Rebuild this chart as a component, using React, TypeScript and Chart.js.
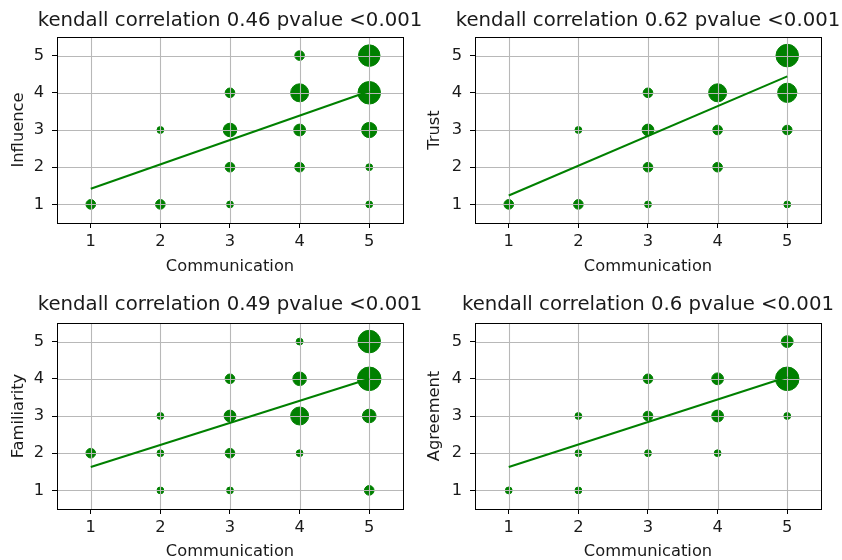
import React, { useEffect, useRef } from 'react';
import { Chart, registerables } from 'chart.js';

Chart.register(...registerables);

// ---- data ----
const tickValues = [1, 2, 3, 4, 5];
const xAxisLabel = 'Communication';

const influenceX = [1, 2, 3, 5, 3, 4, 5, 2, 3, 4, 5, 3, 4, 5, 4, 5];
const influenceY = [1, 1, 1, 1, 2, 2, 2, 3, 3, 3, 3, 4, 4, 4, 5, 5];
const influenceCount = [2, 2, 1, 1, 2, 2, 1, 1, 4, 3, 5, 2, 7, 11, 2, 10];
const influenceTrend = [1.42, 4.04];

const trustX = [1, 2, 3, 5, 3, 4, 2, 3, 4, 5, 3, 4, 5, 5];
const trustY = [1, 1, 1, 1, 2, 2, 3, 3, 3, 3, 4, 4, 4, 5];
const trustCount = [2, 2, 1, 1, 2, 2, 1, 3, 2, 2, 2, 7, 8, 11];
const trustTrend = [1.24, 4.44];

const familiarityX = [1, 2, 2, 2, 3, 3, 3, 3, 4, 4, 4, 4, 5, 5, 5, 5];
const familiarityY = [2, 1, 2, 3, 1, 2, 3, 4, 2, 3, 4, 5, 1, 3, 4, 5];
const familiarityCount = [2, 1, 1, 1, 1, 2, 3, 2, 1, 7, 4, 1, 2, 4, 12, 11];
const familiarityTrend = [1.63, 4.0];

const agreementX = [1, 2, 2, 2, 3, 3, 3, 4, 4, 4, 5, 5, 5];
const agreementY = [1, 1, 2, 3, 2, 3, 4, 2, 3, 4, 3, 4, 5];
const agreementCount = [1, 1, 1, 1, 1, 2, 2, 1, 3, 3, 1, 12, 3];
const agreementTrend = [1.63, 4.05];

const titles = [
  'kendall correlation 0.46 pvalue <0.001',
  'kendall correlation 0.62 pvalue <0.001',
  'kendall correlation 0.49 pvalue <0.001',
  'kendall correlation 0.6 pvalue <0.001',
];
const yAxisLabels = ['Influence', 'Trust', 'Familiarity', 'Agreement'];

// ---- styling / layout ----
const GREEN = '#008000';
const FONT = "'DejaVu Sans', sans-serif";
const TEXT = '#1a1a1a';
const TITLE_SIZE = 19.7;
const LABEL_SIZE = 16.3;

const layouts = [
  { left: 0, top: 0, width: 432, height: 280, yWidth: 57, padRight: 29, padTop: 37, titleY: 20.7, yTitlePad: 9.2, xHeight: 57, xTitlePad: 3.6 },
  { left: 421, top: 0, width: 421, height: 280, yWidth: 54, padRight: 21, padTop: 37, titleY: 20.7, yTitlePad: 3.7, xHeight: 57, xTitlePad: 3.6 },
  { left: 0, top: 280, width: 432, height: 282, yWidth: 57, padRight: 29, padTop: 43, titleY: 24.7, yTitlePad: 9.2, xHeight: 53, xTitlePad: 0.2 },
  { left: 421, top: 280, width: 421, height: 282, yWidth: 54, padRight: 21, padTop: 43, titleY: 24.7, yTitlePad: 3.7, xHeight: 53, xTitlePad: 0.2 },
];

const series = [
  { xs: influenceX, ys: influenceY, counts: influenceCount, trend: influenceTrend },
  { xs: trustX, ys: trustY, counts: trustCount, trend: trustTrend },
  { xs: familiarityX, ys: familiarityY, counts: familiarityCount, trend: familiarityTrend },
  { xs: agreementX, ys: agreementY, counts: agreementCount, trend: agreementTrend },
];

const gridFramePlugin = {
  id: 'gridFrame',
  beforeDatasetDraw(chart: any, args: any) {
    if (args.index !== 0) return;
    const { ctx, chartArea: a, scales } = chart;
    ctx.save();
    ctx.strokeStyle = '#b8b8b8';
    ctx.lineWidth = 1.1;
    ctx.beginPath();
    tickValues.forEach((v) => {
      const px = Math.round(scales.x.getPixelForValue(v)) + 0.5;
      ctx.moveTo(px, a.top);
      ctx.lineTo(px, a.bottom);
      const py = Math.round(scales.y.getPixelForValue(v)) + 0.5;
      ctx.moveTo(a.left, py);
      ctx.lineTo(a.right, py);
    });
    ctx.stroke();
    ctx.restore();
  },
  afterDraw(chart: any) {
    const { ctx, chartArea: a } = chart;
    const o = chart.options.plugins.gridFrame || {};
    ctx.save();
    ctx.strokeStyle = '#000';
    ctx.lineWidth = 1;
    ctx.strokeRect(Math.round(a.left) + 0.5, Math.round(a.top) + 0.5, Math.round(a.right - a.left), Math.round(a.bottom - a.top));
    if (o.title) {
      ctx.fillStyle = TEXT;
      ctx.font = `${TITLE_SIZE}px ${FONT}`;
      ctx.textAlign = 'center';
      ctx.textBaseline = 'middle';
      ctx.fillText(o.title, (a.left + a.right) / 2, o.titleY);
    }
    ctx.restore();
  },
};

function Panel({ idx }: { idx: number }) {
  const ref = useRef<HTMLCanvasElement>(null);
  useEffect(() => {
    const L = layouts[idx];
    const s = series[idx];
    const points = s.xs.map((x, i) => ({ x, y: s.ys[i] }));
    const chart = new Chart(ref.current as HTMLCanvasElement, {
      type: 'scatter',
      data: {
        datasets: [
          {
            data: [
              { x: 1, y: s.trend[0] },
              { x: 5, y: s.trend[1] },
            ],
            showLine: true,
            borderColor: GREEN,
            borderWidth: 2,
            pointRadius: 0,
            fill: false,
          },
          {
            data: points,
            backgroundColor: GREEN,
            borderColor: GREEN,
            borderWidth: 1,
            pointRadius: (c: any) => 3.4 * Math.sqrt(s.counts[c.dataIndex] || 0),
          },
        ],
      },
      options: {
        animation: false,
        responsive: false,
        events: [],
        layout: { padding: { left: 0, right: L.padRight, top: L.padTop, bottom: 0 } },
        plugins: {
          legend: { display: false },
          tooltip: { enabled: false },
          title: { display: false },
          gridFrame: { title: titles[idx], titleY: L.titleY },
        },
        scales: {
          x: {
            type: 'linear',
            min: 0.515,
            max: 5.485,
            afterBuildTicks: (sc: any) => {
              sc.ticks = tickValues.map((v) => ({ value: v }));
            },
            afterFit: (sc: any) => {
              sc.height = L.xHeight;
            },
            ticks: { color: TEXT, font: { family: FONT, size: LABEL_SIZE }, padding: 4.2, callback: (v: any) => String(v) },
            grid: { display: true, drawOnChartArea: false, drawTicks: true, tickLength: 5, tickColor: '#000', tickWidth: 1 },
            border: { display: false },
            title: { display: true, text: xAxisLabel, color: TEXT, font: { family: FONT, size: LABEL_SIZE }, padding: { top: 0, bottom: L.xTitlePad } },
          },
          y: {
            type: 'linear',
            min: 0.5,
            max: 5.5,
            afterBuildTicks: (sc: any) => {
              sc.ticks = tickValues.map((v) => ({ value: v }));
            },
            afterFit: (sc: any) => {
              sc.width = L.yWidth;
            },
            ticks: { color: TEXT, font: { family: FONT, size: LABEL_SIZE }, padding: 8, callback: (v: any) => String(v) },
            grid: { display: true, drawOnChartArea: false, drawTicks: true, tickLength: 5, tickColor: '#000', tickWidth: 1 },
            border: { display: false },
            title: { display: true, text: yAxisLabels[idx], color: TEXT, font: { family: FONT, size: LABEL_SIZE }, padding: { top: L.yTitlePad, bottom: 0 } },
          },
        },
      },
      plugins: [gridFramePlugin],
    } as any);
    return () => chart.destroy();
  }, [idx]);
  const L = layouts[idx];
  return (
    <canvas
      ref={ref}
      width={L.width}
      height={L.height}
      style={{ position: 'absolute', left: L.left, top: L.top, width: L.width, height: L.height }}
    />
  );
}

export default function App() {
  return (
    <div style={{ position: 'fixed', left: 0, top: 0, width: 842, height: 560, background: '#fff', overflow: 'hidden' }}>
      {[0, 1, 2, 3].map((i) => (
        <Panel key={i} idx={i} />
      ))}
    </div>
  );
}
